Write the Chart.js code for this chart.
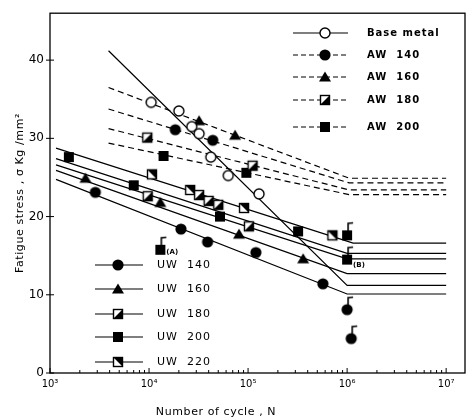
<!DOCTYPE html>
<html>
<head>
<meta charset="utf-8">
<script src="https://cdn.jsdelivr.net/npm/chart.js@4.4.1/dist/chart.umd.min.js"></script>
<style>
  html, body { margin: 0; padding: 0; background: #fff; }
  #wrap { width: 472px; height: 420px; position: relative; }
</style>
</head>
<body>
<div id="wrap"><canvas id="snChart" width="472" height="420"></canvas></div>
<script>
// S-N data: N = cycles, S = fatigue stress (kg/mm2)
const xTickValues = [1e3, 1e4, 1e5, 1e6, 1e7];
const xTickLabels = ['10³', '10⁴', '10⁵', '10⁶', '10⁷'];
const yTickValues = [0, 10, 20, 30, 40];

// test points
const baseMetalN = [1.05e4, 2.0e4, 2.7e4, 3.2e4, 4.2e4, 6.3e4, 1.29e5];
const baseMetalS = [34.6, 33.5, 31.5, 30.6, 27.6, 25.25, 22.9];
const aw140N = [1.84e4, 4.4e4];
const aw140S = [31.1, 29.75];
const aw160N = [3.2e4, 7.4e4];
const aw160S = [32.25, 30.4];
const aw180N = [9.6e3, 1.11e5];
const aw180S = [30.1, 26.5];
const aw200N = [1.4e4, 9.6e4];
const aw200S = [27.75, 25.6];

const uw140N = [2.87e3, 2.1e4, 3.9e4, 1.2e5, 5.7e5];
const uw140S = [23.1, 18.4, 16.75, 15.4, 11.4];
const uw140RunN = [1.0e6, 1.1e6];
const uw140RunS = [8.1, 4.4];
const uw160N = [2.28e3, 1.3e4, 8.1e4, 3.6e5];
const uw160S = [24.9, 21.8, 17.75, 14.6];
const uw180N = [9.7e3, 3.2e4, 4.0e4, 5.0e4, 1.02e5];
const uw180S = [22.6, 22.75, 22.0, 21.5, 18.75];
const uw200N = [1.55e3, 7.0e3, 5.2e4, 3.2e5];
const uw200S = [27.6, 24.0, 20.0, 18.1];
const uw200RunN = [1.3e4, 1.0e6, 1.0e6];
const uw200RunS = [15.75, 17.6, 14.5];
const uw220N = [1.07e4, 2.6e4, 9.1e4, 7.1e5];
const uw220S = [25.4, 23.4, 21.1, 17.6];

// fitted S-N lines
const baseLineN = [3.9e3, 1.0e6, 1.0e7];
const baseLineS = [41.2, 11.2, 11.2];
const awLineN = [3.9e3, 1.05e6, 1.0e7];
const aw160LineS = [36.5, 24.9, 24.9];
const aw140LineS = [33.75, 24.3, 24.3];
const aw180LineS = [31.25, 23.4, 23.4];
const aw200LineS = [29.4, 22.8, 22.8];
const uwLineN = [1.15e3, 1.0e6, 1.0e7];
const uwTopLineN = [1.15e3, 1.15e6, 1.0e7];
const uw220LineS = [28.75, 16.6, 16.6];
const uw200LineS = [27.4, 15.3, 15.3];
const uw180LineS = [26.6, 14.6, 14.6];
const uw160LineS = [25.9, 12.7, 12.7];
const uw140LineS = [24.75, 10.1, 10.1];

function pts(ns, ss) {
    return ns.map((n, i) => ({x: n, y: ss[i]}));
}

// marker shapes drawn into small canvases, used as pointStyle
function drawShape(g, kind, cx, cy) {
    g.fillStyle = '#000';
    g.strokeStyle = '#000';
    g.lineWidth = 1.4;
    if (kind === 'open') {
        g.beginPath(); g.arc(cx, cy, 5, 0, Math.PI * 2);
        g.fillStyle = '#fff'; g.fill(); g.stroke();
    } else if (kind === 'dot') {
        g.beginPath(); g.arc(cx, cy, 5.6, 0, Math.PI * 2); g.fill();
    } else if (kind === 'tri') {
        g.beginPath(); g.moveTo(cx, cy - 5.5); g.lineTo(cx + 6, cy + 4.5); g.lineTo(cx - 6, cy + 4.5);
        g.closePath(); g.fill();
    } else if (kind === 'sq') {
        g.fillRect(cx - 5, cy - 5, 10, 10);
    } else {
        g.fillStyle = '#fff'; g.fillRect(cx - 5, cy - 5, 10, 10);
        g.fillStyle = '#000';
        g.beginPath();
        if (kind === 'halfLR') {
            g.moveTo(cx + 5, cy - 5); g.lineTo(cx + 5, cy + 5); g.lineTo(cx - 5, cy + 5);
        } else {
            g.moveTo(cx - 5, cy - 5); g.lineTo(cx + 5, cy - 5); g.lineTo(cx + 5, cy + 5);
        }
        g.closePath(); g.fill();
        g.strokeRect(cx - 4.5, cy - 4.5, 9, 9);
    }
}

function makeMarker(kind, runout) {
    const c = document.createElement('canvas');
    c.width = 16;
    c.height = runout ? 34 : 16;
    const g = c.getContext('2d');
    const cx = 8, cy = c.height / 2;
    drawShape(g, kind, cx, cy);
    if (runout) {
        g.beginPath();
        g.moveTo(cx + 1, cy - 5);
        g.lineTo(cx + 1, cy - 12);
        g.lineTo(cx + 6, cy - 12.5);
        g.lineWidth = 1.6;
        g.stroke();
    }
    return c;
}

const mk = {
    open: makeMarker('open'),
    dot: makeMarker('dot'),
    tri: makeMarker('tri'),
    sq: makeMarker('sq'),
    halfLR: makeMarker('halfLR'),
    halfUR: makeMarker('halfUR'),
    dotRun: makeMarker('dot', true),
    sqRun: makeMarker('sq', true)
};

function pointSet(label, ns, ss, style) {
    return {
        label: label,
        data: pts(ns, ss),
        pointStyle: style,
        pointRadius: 6,
        pointHoverRadius: 6,
        showLine: false,
        order: 1
    };
}

function lineSet(label, ns, ss, dashed) {
    return {
        label: label,
        data: pts(ns, ss),
        showLine: true,
        pointRadius: 0,
        borderColor: '#000',
        borderWidth: 1.2,
        borderDash: dashed ? [6, 4] : [],
        fill: false,
        order: 2
    };
}

const FONT = "'DejaVu Sans', 'Liberation Sans', sans-serif";

const topLegend = [
    {text: 'Base metal', m: mk.open, dash: []},
    {text: 'AW  140', m: mk.dot, dash: [5, 3]},
    {text: 'AW  160', m: mk.tri, dash: [5, 3]},
    {text: 'AW  180', m: mk.halfLR, dash: [5, 3]},
    {text: 'AW  200', m: mk.sq, dash: [5, 3]}
];
const topLegendY = [33, 55, 77, 100, 127];
const lowLegend = [
    {text: 'UW  140', m: mk.dot},
    {text: 'UW  160', m: mk.tri},
    {text: 'UW  180', m: mk.halfLR},
    {text: 'UW  200', m: mk.sq},
    {text: 'UW  220', m: mk.halfUR}
];
const lowLegendY = [265, 289, 314, 337, 362];

const decor = {
    id: 'decor',
    beforeDraw(chart) {
        const ctx = chart.ctx;
        ctx.save();
        ctx.fillStyle = '#fff';
        ctx.fillRect(0, 0, chart.width, chart.height);
        ctx.restore();
    },
    afterDraw(chart) {
        const ctx = chart.ctx;
        const a = chart.chartArea;
        const xs = chart.scales.x, ys = chart.scales.y;
        ctx.save();
        ctx.strokeStyle = '#000';
        ctx.fillStyle = '#000';

        // frame
        ctx.lineWidth = 1.3;
        ctx.strokeRect(a.left, a.top, a.right - a.left, a.bottom - a.top);

        // x ticks, inward
        ctx.lineWidth = 1;
        for (let d = 3; d <= 7; d++) {
            for (let m = 1; m <= 9; m++) {
                const v = m * Math.pow(10, d);
                if (v > xs.max) break;
                const px = xs.getPixelForValue(v);
                const len = m === 1 ? 5 : 3;
                ctx.beginPath();
                ctx.moveTo(px, a.bottom);
                ctx.lineTo(px, a.bottom - len);
                ctx.stroke();
            }
        }
        // y ticks
        yTickValues.forEach(v => {
            const py = ys.getPixelForValue(v);
            ctx.beginPath();
            ctx.moveTo(a.left - 4, py);
            ctx.lineTo(a.left + 4, py);
            ctx.stroke();
        });

        // legends
        ctx.font = 'bold 10px ' + FONT;
        ctx.letterSpacing = '1px';
        ctx.textBaseline = 'middle';
        topLegend.forEach((e, i) => {
            const y = topLegendY[i];
            ctx.setLineDash(e.dash);
            ctx.lineWidth = 1.2;
            ctx.beginPath(); ctx.moveTo(293, y); ctx.lineTo(348, y); ctx.stroke();
            ctx.setLineDash([]);
            ctx.drawImage(e.m, 325 - e.m.width / 2, y - e.m.height / 2);
            ctx.fillText(e.text, 367, y);
        });
        ctx.font = '11px ' + FONT;
        lowLegend.forEach((e, i) => {
            const y = lowLegendY[i];
            ctx.lineWidth = 1.2;
            ctx.beginPath(); ctx.moveTo(95, y); ctx.lineTo(143, y); ctx.stroke();
            ctx.drawImage(e.m, 118 - e.m.width / 2, y - e.m.height / 2);
            ctx.fillText(e.text, 157, y);
        });

        // point notes
        ctx.font = 'bold 7px ' + FONT;
        ctx.letterSpacing = '0px';
        ctx.textAlign = 'left';
        ctx.fillText('(A)', xs.getPixelForValue(uw200RunN[0]) + 6, ys.getPixelForValue(uw200RunS[0]) + 2);
        ctx.fillText('(B)', xs.getPixelForValue(uw200RunN[2]) + 6, ys.getPixelForValue(uw200RunS[2]) + 6);

        // axis titles
        ctx.font = '11px ' + FONT;
        ctx.letterSpacing = '0.6px';
        ctx.textAlign = 'center';
        ctx.fillText('Number of cycle , N', 216, 412);
        ctx.translate(20, 193);
        ctx.rotate(-Math.PI / 2);
        ctx.fillText('Fatigue stress , σ Kg /mm²', 0, 0);
        ctx.restore();
    }
};

const ctx = document.getElementById('snChart').getContext('2d');
new Chart(ctx, {
    type: 'scatter',
    data: {
        datasets: [
            pointSet('Base metal', baseMetalN, baseMetalS, mk.open),
            pointSet('AW 140', aw140N, aw140S, mk.dot),
            pointSet('AW 160', aw160N, aw160S, mk.tri),
            pointSet('AW 180', aw180N, aw180S, mk.halfLR),
            pointSet('AW 200', aw200N, aw200S, mk.sq),
            pointSet('UW 140', uw140N, uw140S, mk.dot),
            pointSet('UW 140 runout', uw140RunN, uw140RunS, mk.dotRun),
            pointSet('UW 160', uw160N, uw160S, mk.tri),
            pointSet('UW 180', uw180N, uw180S, mk.halfLR),
            pointSet('UW 200', uw200N, uw200S, mk.sq),
            pointSet('UW 200 runout', uw200RunN, uw200RunS, mk.sqRun),
            pointSet('UW 220', uw220N, uw220S, mk.halfUR),
            lineSet('Base metal fit', baseLineN, baseLineS, false),
            lineSet('AW 160 fit', awLineN, aw160LineS, true),
            lineSet('AW 140 fit', awLineN, aw140LineS, true),
            lineSet('AW 180 fit', awLineN, aw180LineS, true),
            lineSet('AW 200 fit', awLineN, aw200LineS, true),
            lineSet('UW 220 fit', uwTopLineN, uw220LineS, false),
            lineSet('UW 200 fit', uwLineN, uw200LineS, false),
            lineSet('UW 180 fit', uwLineN, uw180LineS, false),
            lineSet('UW 160 fit', uwLineN, uw160LineS, false),
            lineSet('UW 140 fit', uwLineN, uw140LineS, false)
        ]
    },
    options: {
        responsive: false,
        animation: false,
        events: [],
        layout: {padding: {left: 0, top: 6, right: 1, bottom: 0}},
        plugins: {
            legend: {display: false},
            tooltip: {enabled: false}
        },
        scales: {
            x: {
                type: 'logarithmic',
                min: 1e3,
                max: 1.55e7,
                grid: {display: false, drawTicks: false},
                border: {display: false},
                afterFit: s => { s.height = 47; },
                ticks: {
                    autoSkip: false,
                    maxRotation: 0,
                    padding: 5,
                    color: '#000',
                    font: {family: FONT, size: 10},
                    callback: v => {
                        const i = xTickValues.findIndex(t => Math.abs(t - v) / t < 1e-6);
                        return i >= 0 ? xTickLabels[i] : '';
                    }
                }
            },
            y: {
                min: 0,
                max: 46,
                grid: {display: false, drawTicks: false},
                border: {display: false},
                afterFit: s => { s.width = 50; },
                ticks: {
                    stepSize: 10,
                    includeBounds: false,
                    padding: 6,
                    color: '#000',
                    font: {family: FONT, size: 12},
                    callback: v => yTickValues.includes(v) ? String(v) : ''
                }
            }
        }
    },
    plugins: [decor]
});
</script>
</body>
</html>
